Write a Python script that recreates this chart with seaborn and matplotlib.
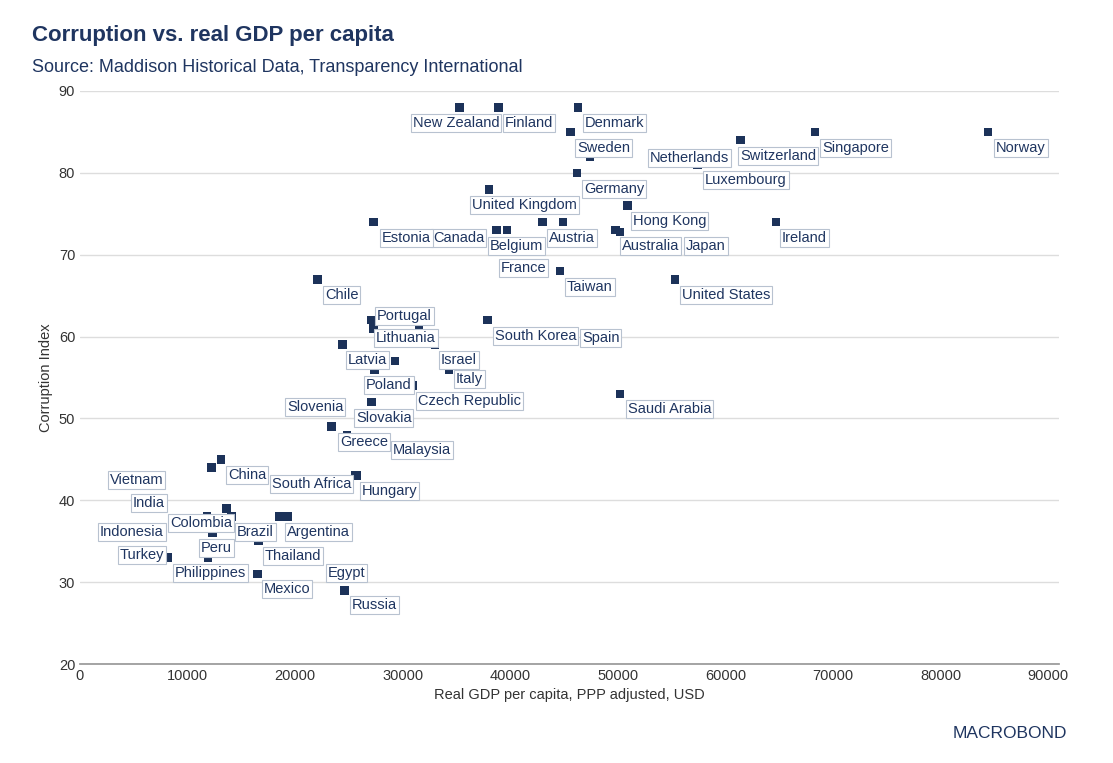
import matplotlib
matplotlib.use("Agg")
import matplotlib.pyplot as plt
import seaborn as sns
import pandas as pd

countries = ["New Zealand", "Finland", "Denmark", "Sweden", "Netherlands", "Luxembourg",
             "Switzerland", "Singapore", "Norway", "Germany", "United Kingdom", "Hong Kong",
             "France", "Austria", "Canada", "Belgium", "Australia", "Japan", "Ireland",
             "Estonia", "United States", "Taiwan", "Chile", "South Korea", "Portugal",
             "Lithuania", "Spain", "Israel", "Latvia", "Czech Republic", "Poland", "Italy",
             "Malaysia", "Slovakia", "Slovenia", "Greece", "China", "Vietnam", "South Africa",
             "Hungary", "India", "Colombia", "Egypt", "Peru", "Indonesia", "Turkey",
             "Brazil", "Thailand", "Argentina", "Philippines", "Mexico", "Russia",
             "Saudi Arabia"]
gdp = [35300, 38900, 46300, 45600, 47400, 57400,
       61400, 68300, 84400, 46200, 38000, 50900,
       43000, 44900, 38700, 39700, 49800, 50200, 64700,
       27300, 55300, 44600, 22100, 37900, 27100,
       27300, 31500, 33000, 24400, 29300, 27400, 34300,
       30900, 27100, 23400, 24800, 13100, 12200, 25700,
       25600, 6800, 13600, 14100, 11800, 12300, 8200,
       16600, 18500, 19300, 11900, 16500, 24600,
       50200]
cpi = [88, 88, 88, 85, 82, 81,
       84, 85, 85, 80, 78, 76,
       74, 74, 73, 73, 73, 72.8, 74,
       74, 67, 68, 67, 62, 62,
       61, 61, 59, 59, 57, 56, 56,
       54, 52, 49, 48, 45, 44, 43,
       43, 39, 39, 38, 38, 36, 33,
       35, 38, 38, 33, 31, 29,
       53]

# label box left edge / vertical centre, in figure pixels
label_px = {
    "New Zealand": (413, 123), "Finland": (505, 123), "Denmark": (585, 123),
    "Sweden": (577, 148), "Netherlands": (650, 158), "Switzerland": (740, 156),
    "Singapore": (822, 148), "Norway": (996, 148), "Luxembourg": (705, 180),
    "Germany": (584, 189), "United Kingdom": (472, 205), "Hong Kong": (633, 221),
    "Estonia": (382, 238), "Canada": (433, 238), "Belgium": (490, 246),
    "Austria": (549, 238), "Australia": (622, 246), "Japan": (686, 246),
    "Ireland": (782, 238), "France": (501, 268), "Taiwan": (567, 287),
    "United States": (682, 295), "Chile": (325, 295), "Portugal": (377, 316),
    "Lithuania": (376, 338), "South Korea": (495, 336), "Spain": (582, 338),
    "Latvia": (348, 360), "Israel": (441, 360), "Italy": (456, 379),
    "Poland": (366, 385), "Czech Republic": (418, 401), "Slovenia": (287, 407),
    "Slovakia": (356, 418), "Greece": (340, 442), "Malaysia": (393, 450),
    "Vietnam": (110, 480), "China": (228, 475), "South Africa": (272, 484),
    "Hungary": (362, 491), "India": (133, 503), "Colombia": (170, 523),
    "Indonesia": (100, 532), "Brazil": (237, 532), "Argentina": (287, 532),
    "Peru": (201, 548), "Turkey": (120, 555), "Thailand": (265, 556),
    "Philippines": (175, 573), "Egypt": (328, 573), "Mexico": (264, 589),
    "Russia": (352, 605), "Saudi Arabia": (628, 409),
}

df = pd.DataFrame({"country": countries, "gdp": gdp, "cpi": cpi})

navy = "#1c3259"
W, H = 1113, 763
sns.set_theme(style="white")
plt.rcParams["font.family"] = ["Liberation Sans", "DejaVu Sans"]
fig = plt.figure(figsize=(W / 100, H / 100), dpi=100)
ax = fig.add_axes([80 / W, 1 - 664 / H, (1059 - 80) / W, (664 - 91) / H])

sns.scatterplot(data=df, x="gdp", y="cpi", marker="s", s=38, color=navy,
                edgecolor="none", ax=ax, zorder=3)

for c in countries:
    lx, ly = label_px[c]
    fig.text(lx / W, 1 - ly / H, c, ha="left", va="center", fontsize=10.5,
             color="#1f3560", zorder=5,
             bbox=dict(boxstyle="square,pad=0.12", fc="white", ec="#b8c2d0", lw=0.8))

ax.set_xlim(0, 91000)
ax.set_ylim(20, 90)
ax.set_xticks(range(0, 90001, 10000))
ax.set_yticks(range(20, 91, 10))
ax.tick_params(labelsize=10.5, colors="#333333", length=0)
ax.grid(axis="y", color="#dddddd", lw=1)
for s in ["top", "right", "left"]:
    ax.spines[s].set_visible(False)
ax.spines["bottom"].set_color("#999999")
ax.set_xlabel("Real GDP per capita, PPP adjusted, USD", fontsize=10.5, color="#333333")
ax.set_ylabel("Corruption Index", fontsize=10.5, color="#333333")

fig.text(32 / W, 1 - 35 / H, "Corruption vs. real GDP per capita", fontsize=16,
         fontweight="bold", color="#1f3560", va="center")
fig.text(32 / W, 1 - 68 / H, "Source: Maddison Historical Data, Transparency International",
         fontsize=13, color="#1f3560", va="center")
fig.text(1067 / W, 1 - 733 / H, "MACROBOND", fontsize=12.5, color="#1f3560",
         ha="right", va="center")

fig.savefig("out.png", dpi=100)
